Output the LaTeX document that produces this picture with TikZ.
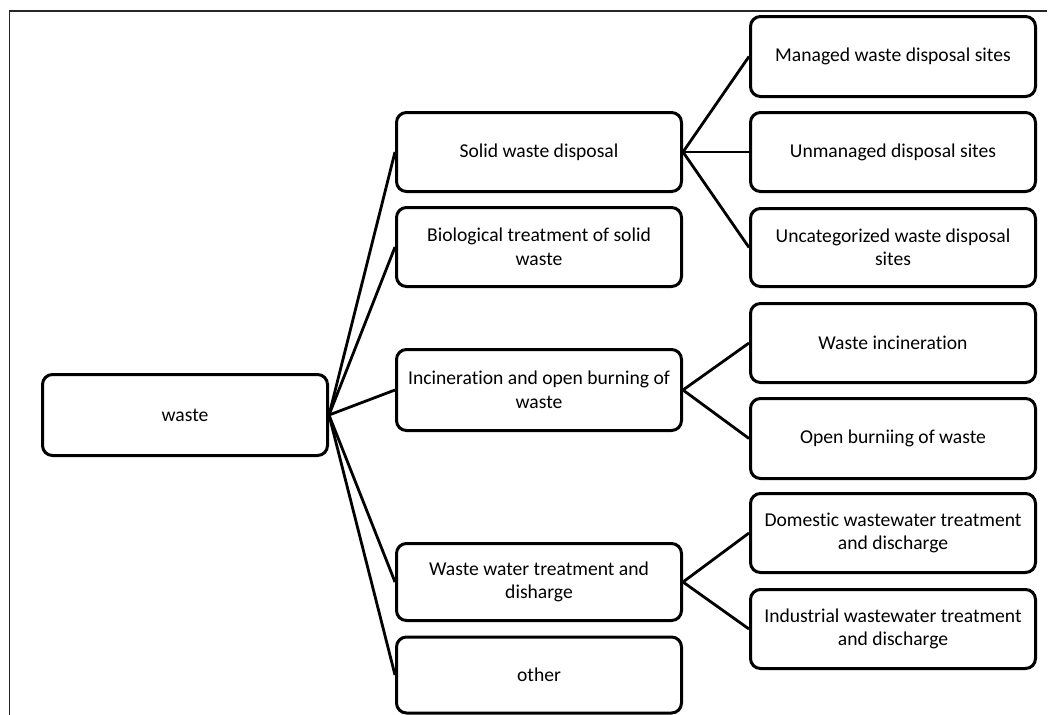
\documentclass[tikz,border=0pt]{standalone}
\usepackage{fontspec}
\setmainfont{Carlito}[Ligatures={NoCommon}]
\begin{document}
\begin{tikzpicture}[x=1pt,y=-1pt,
  box/.style={draw=black, line width=3pt, rounded corners=10pt, fill=white,
    minimum width=285pt, align=center, inner sep=0pt,
    font=\fontsize{19.6}{23.5}\selectfont},
  link/.style={draw=black, line width=2.8pt},
  frameline/.style={draw=black!85, line width=1.6pt}]
\useasboundingbox (0,0) rectangle (1053,715);

% outer frame (top and left edges)
\draw[frameline] (1047,11) -- (9.5,11) -- (9.5,716);

% root
\node[box, minimum height=81pt] (waste) at (185,415) {waste};

% second level
\node[box, minimum height=79pt] (solid) at (539,152) {Solid waste disposal};
\node[box, minimum height=79pt] (bio) at (539,247) {Biological treatment of solid\\waste};
\node[box, minimum height=81pt] (incin) at (539,390) {Incineration and open burning of\\waste};
\node[box, minimum height=77pt] (ww) at (539,582) {Waste water treatment and\\disharge};
\node[box, minimum height=76pt] (other) at (539,675) {other};

% third level
\node[box, minimum height=80pt] (managed) at (893,56.5) {Managed waste disposal sites};
\node[box, minimum height=79pt] (unmanaged) at (893,152) {Unmanaged disposal sites};
\node[box, minimum height=78pt] (uncat) at (893,247.5) {Uncategorized waste disposal\\sites};
\node[box, minimum height=79pt] (wincin) at (893,343) {Waste incineration};
\node[box, minimum height=80pt] (open) at (893,438.5) {Open burniing of waste};
\node[box, minimum height=79pt] (domestic) at (893,533) {Domestic wastewater treatment\\and discharge};
\node[box, minimum height=79pt] (industrial) at (893,629) {Industrial wastewater treatment\\and discharge};

% connectors
\foreach \n in {solid,bio,incin,ww,other}
  \draw[link] (waste.east) -- (\n.west);
\foreach \n in {managed,unmanaged,uncat}
  \draw[link] (solid.east) -- (\n.west);
\foreach \n in {wincin,open}
  \draw[link] (incin.east) -- (\n.west);
\foreach \n in {domestic,industrial}
  \draw[link] (ww.east) -- (\n.west);
\end{tikzpicture}
\end{document}
